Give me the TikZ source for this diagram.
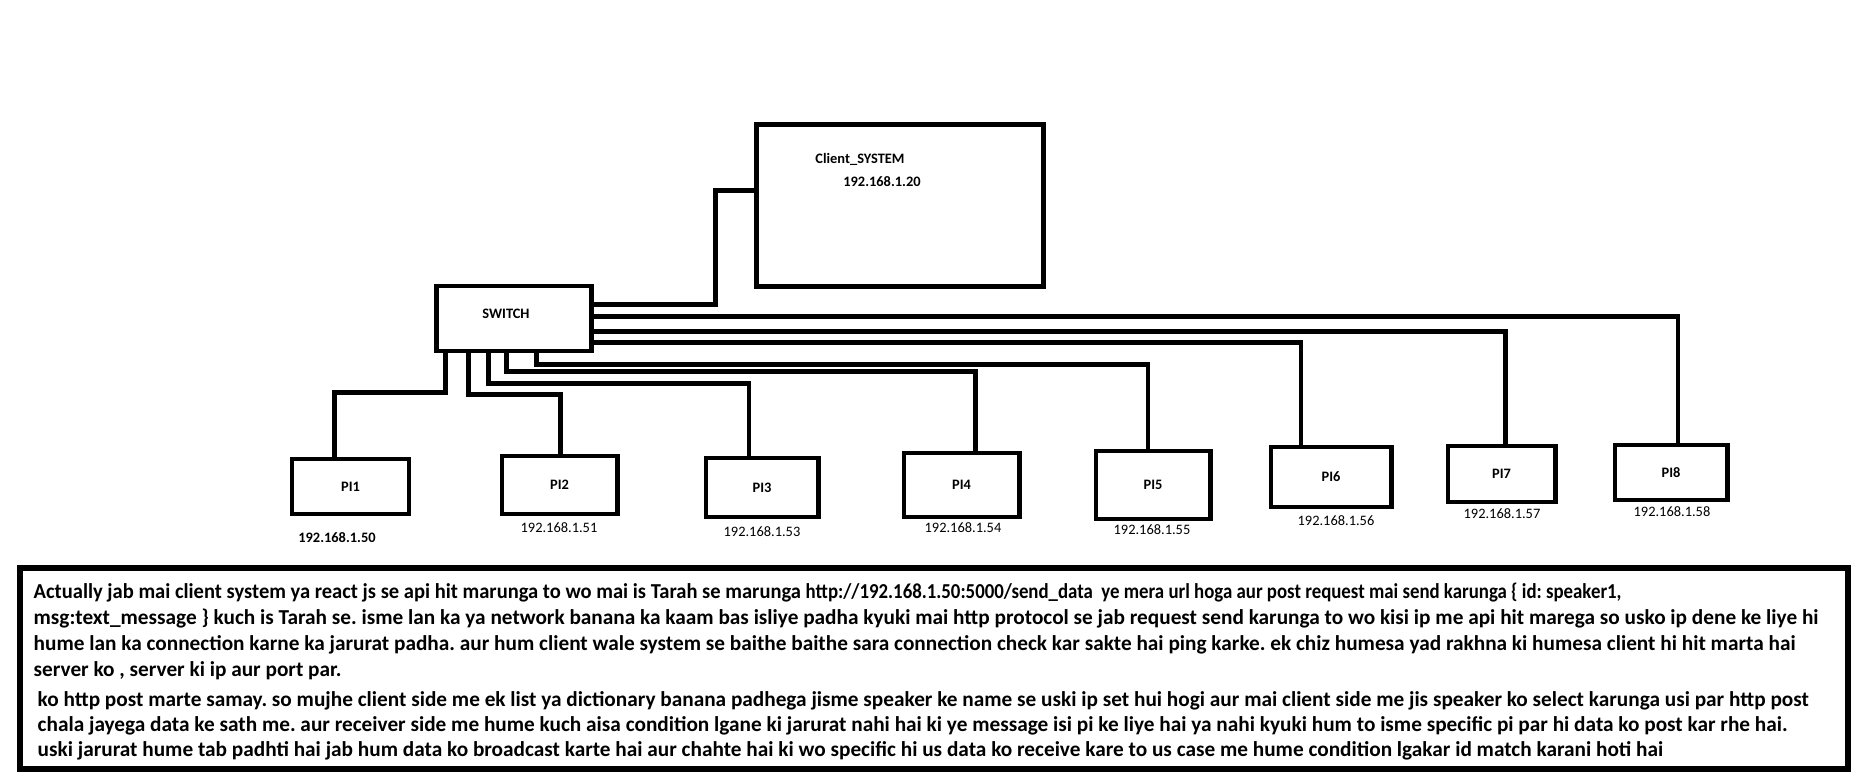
\documentclass[tikz,border=0pt]{standalone}
\usepackage{fontspec}
\setmainfont{Carlito}
\usetikzlibrary{calc,positioning}

\newcommand{\lblfont}{\fontsize{4.1}{5}\selectfont\bfseries}
\newcommand{\ipfont}{\fontsize{4.1}{5}\selectfont}
\newcommand{\notefont}{\fontsize{6.05}{7}\selectfont\bfseries\frenchspacing}

\begin{document}
\begin{tikzpicture}[x=0.01cm,y=-0.01cm]
                % one unit = one pixel of the sketch, y grows downwards
                \tikzstyle{box}=[draw=black, line width=1.4pt, inner sep=0pt, font=\lblfont]
                \tikzstyle{wire}=[black, line width=1.4pt, line cap=round]
                \tikzstyle{ip}=[inner sep=0pt, font=\ipfont]
                \tikzstyle{note}=[anchor=base west, inner sep=0pt, font=\notefont]

                \useasboundingbox (0,0) rectangle (1866,779);

                \node[box, minimum width=2.86cm, minimum height=1.61cm] (client) at (900,205.5) {};
                \node[inner sep=0pt, font=\lblfont] (clientname) at (860,159) {Client\_SYSTEM};
                \node[inner sep=0pt, font=\lblfont] (clientip) at (882,182) {192.168.1.20};

                \node[box, minimum width=1.54cm, minimum height=0.65cm] (switch) at (514,318.5) {};
                \node[inner sep=0pt, font=\lblfont] (switchname) at (506,314) {SWITCH};

                \node[box, minimum width=1.17cm, minimum height=0.55cm] (pi1) at (350.5,486.5) {PI1};
                \node[box, minimum width=1.15cm, minimum height=0.58cm] (pi2) at (559.5,485) {PI2};
                \node[box, minimum width=1.12cm, minimum height=0.59cm] (pi3) at (762,487.5) {PI3};
                \node[box, minimum width=1.15cm, minimum height=0.64cm] (pi4) at (961.5,485) {PI4};
                \node[box, minimum width=1.14cm, minimum height=0.68cm] (pi5) at (1153,485) {PI5};
                \node[box, minimum width=1.20cm, minimum height=0.60cm] (pi6) at (1331,477) {PI6};
                \node[box, minimum width=1.07cm, minimum height=0.56cm] (pi7) at (1501.5,474) {PI7};
                \node[box, minimum width=1.12cm, minimum height=0.55cm] (pi8) at (1671,472.5) {PI8};

                \node[ip, font=\lblfont] (ip1) at (337,538) {192.168.1.50};
                \node[ip] (ip2) at (559,528) {192.168.1.51};
                \node[ip] (ip3) at (762,532) {192.168.1.53};
                \node[ip] (ip4) at (963,528) {192.168.1.54};
                \node[ip] (ip5) at (1152,530) {192.168.1.55};
                \node[ip] (ip6) at (1336,521) {192.168.1.56};
                \node[ip] (ip7) at (1502,514) {192.168.1.57};
                \node[ip] (ip8) at (1672,512) {192.168.1.58};

                % cables
                \draw[wire] ($(switch.north east)+(0,21)$) -- ++(122,0) |- ($(client.north west)+(0,68)$);
                \draw[wire] ($(switch.north east)+(0,33)$) -| ($(pi8.north)+(7,0)$);
                \draw[wire] ($(switch.north east)+(0,48)$) -| ($(pi7.north)+(4,0)$);
                \draw[wire] ($(switch.north east)+(0,59)$) -| ($(pi6.north)+(-30,0)$);
                \draw[wire] ($(switch.south west)+(102,0)$) -- ++(0,11) -| ($(pi5.north)+(-5,0)$);
                \draw[wire] ($(switch.south west)+(72,0)$) -- ++(0,18) -| ($(pi4.north)+(14,0)$);
                \draw[wire] ($(switch.south west)+(54,0)$) -- ++(0,30) -| ($(pi3.north)+(-13,0)$);
                \draw[wire] ($(switch.south west)+(34,0)$) -- ++(0,41) -| ($(pi2.north)+(1,0)$);
                \draw[wire] ($(switch.south west)+(11,0)$) -- ++(0,39) -| ($(pi1.north)+(-16,0)$);

                % explanation
                \node[draw=black, line width=1.7pt, minimum width=18.26cm, minimum height=2.01cm] (notes) at (934,668.5) {};
                \node[note] (l1) at (33,598) {\scalebox{0.965}[1]{Actually jab mai client system ya react js se api hit marunga to wo mai is Tarah se marunga}\ \scalebox{0.885}[1]{http://192.168.1.50:5000/send\_data\ \ ye mera url hoga aur post request mai send karunga \{ id: speaker1,}};
                \node[note] (l2) at (33,624) {msg:text\_message \} kuch is Tarah se. isme lan ka ya network banana ka kaam bas isliye padha kyuki mai http protocol se jab request send karunga to wo kisi ip me api hit marega so usko ip dene ke liye hi};
                \node[note] (l3) at (33,650) {hume lan ka connection karne ka jarurat padha. aur hum client wale system se baithe baithe sara connection check kar sakte hai ping karke. ek chiz humesa yad rakhna ki humesa client hi hit marta hai};
                \node[note] (l4) at (33,676) {server ko , server ki ip aur port par.};
                \node[note] (l5) at (37,706) {ko http post marte samay. so mujhe client side me ek list ya dictionary banana padhega jisme speaker ke name se uski ip set hui hogi aur mai client side me jis speaker ko select karunga usi par http post};
                \node[note] (l6) at (37,731) {chala jayega data ke sath me. aur receiver side me hume kuch aisa condition lgane ki jarurat nahi hai ki ye message isi pi ke liye hai ya nahi kyuki hum to isme specific pi par hi data ko post kar rhe hai.};
                \node[note] (l7) at (37,756) {uski jarurat hume tab padhti hai jab hum data ko broadcast karte hai aur chahte hai ki wo specific hi us data ko receive kare to us case me hume condition lgakar id match karani hoti hai};
\end{tikzpicture}
\end{document}
